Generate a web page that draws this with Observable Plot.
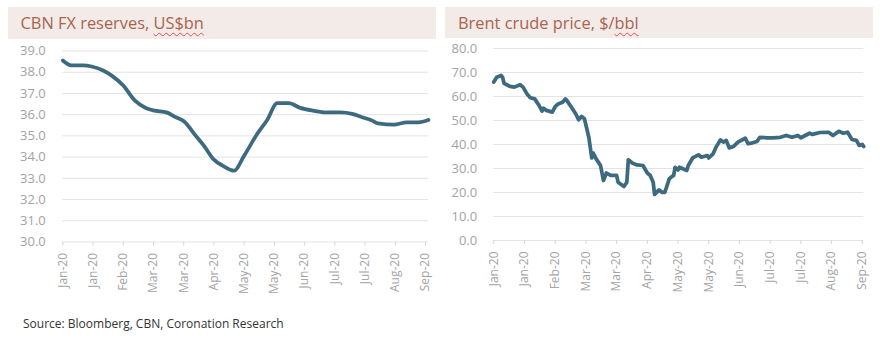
<!DOCTYPE html>
<html>
<head>
<meta charset="utf-8">
<script src="https://cdn.jsdelivr.net/npm/d3@7"></script>
<script src="https://cdn.jsdelivr.net/npm/@observablehq/plot@0.6"></script>
<style>
  html, body { margin: 0; padding: 0; background: #fff; }
  body { width: 880px; height: 340px; position: relative; overflow: hidden; font-family: "Open Sans", sans-serif; }
  .band { position: absolute; background: #f3ebe8; color: #a9644f; font-size: 16.4px; line-height: 32px; box-sizing: border-box; white-space: nowrap; }
  .sq { text-decoration: underline wavy #e05050; text-decoration-thickness: 1px; text-underline-offset: 3px; }
  .chart { position: absolute; top: 40px; }
  .src { position: absolute; left: 23px; top: 316px; font-size: 12px; line-height: 16px; color: #333; }
</style>
</head>
<body>
<div class="band" style="left:8px;top:7px;width:428px;height:32px;padding-left:12.5px">CBN FX reserves, <span class="sq">US$bn</span></div>
<div class="band" style="left:445px;top:7px;width:428px;height:31px;line-height:31px;padding-left:13px">Brent crude price, $/<span class="sq">bbl</span></div>
<div id="left" class="chart" style="left:0"></div>
<div id="right" class="chart" style="left:440px"></div>
<div class="src">Source: Bloomberg, CBN, Coronation Research</div>
<script>
// ---- data ----
const tickDates = ["2020-01-01","2020-01-22","2020-02-12","2020-03-04","2020-03-25","2020-04-15","2020-05-06","2020-05-27","2020-06-17","2020-07-08","2020-07-29","2020-08-19","2020-09-09"];
const tickLabels = ["Jan-20","Jan-20","Feb-20","Mar-20","Mar-20","Apr-20","May-20","May-20","Jun-20","Jul-20","Jul-20","Aug-20","Sep-20"];

const reservesTicks = [30, 31, 32, 33, 34, 35, 36, 37, 38, 39];
const brentTicks = [0, 10, 20, 30, 40, 50, 60, 70, 80];

const reservesDates = ["2020-01-01","2020-01-07","2020-01-15","2020-01-21","2020-01-29","2020-02-04","2020-02-12","2020-02-20","2020-02-28","2020-03-05","2020-03-13","2020-03-19","2020-03-26","2020-04-01","2020-04-08","2020-04-15","2020-04-21","2020-04-29","2020-05-06","2020-05-15","2020-05-22","2020-05-29","2020-06-06","2020-06-14","2020-06-23","2020-07-02","2020-07-12","2020-07-20","2020-07-27","2020-08-03","2020-08-07","2020-08-18","2020-08-27","2020-09-04","2020-09-11"];
const reservesValues = [38.55,38.32,38.32,38.27,38.08,37.84,37.37,36.67,36.30,36.19,36.11,35.90,35.64,35.12,34.54,33.88,33.60,33.36,34.07,35.09,35.75,36.54,36.54,36.32,36.19,36.11,36.11,36.04,35.88,35.72,35.59,35.53,35.64,35.64,35.75];

const brentDates = ["2020-01-01","2020-01-03","2020-01-06","2020-01-07","2020-01-08","2020-01-12","2020-01-15","2020-01-19","2020-01-21","2020-01-24","2020-01-26","2020-01-29","2020-02-01","2020-02-03","2020-02-04","2020-02-06","2020-02-10","2020-02-12","2020-02-14","2020-02-17","2020-02-19","2020-02-20","2020-02-23","2020-02-26","2020-02-28","2020-03-01","2020-03-03","2020-03-06","2020-03-08","2020-03-09","2020-03-11","2020-03-14","2020-03-16","2020-03-18","2020-03-21","2020-03-25","2020-03-26","2020-03-30","2020-04-01","2020-04-02","2020-04-05","2020-04-08","2020-04-12","2020-04-15","2020-04-17","2020-04-19","2020-04-20","2020-04-23","2020-04-25","2020-04-27","2020-04-30","2020-05-02","2020-05-03","2020-05-04","2020-05-06","2020-05-07","2020-05-12","2020-05-13","2020-05-16","2020-05-20","2020-05-22","2020-05-26","2020-05-27","2020-05-30","2020-06-01","2020-06-04","2020-06-06","2020-06-08","2020-06-10","2020-06-13","2020-06-16","2020-06-21","2020-06-23","2020-06-26","2020-06-29","2020-07-01","2020-07-06","2020-07-10","2020-07-15","2020-07-19","2020-07-23","2020-07-27","2020-07-29","2020-08-04","2020-08-06","2020-08-11","2020-08-17","2020-08-20","2020-08-24","2020-08-27","2020-08-30","2020-09-02","2020-09-05","2020-09-07","2020-09-09","2020-09-10"];
const brentValues = [66.0,68.0,68.75,68.0,65.5,64.2,63.9,64.9,63.9,60.8,59.5,59.0,56.25,53.9,55.1,54.2,53.5,55.8,56.9,57.6,59.0,58.3,55.6,52.8,50.3,51.7,50.7,43.0,34.4,36.4,34.0,31.25,25.0,28.1,27.1,27.1,24.3,22.5,24.3,33.6,32.2,31.5,31.25,28.1,27.1,24.3,19.2,21.1,20.1,20.1,25.7,26.7,27.1,30.5,29.4,30.5,29.2,31.25,34.4,35.7,34.7,35.4,34.4,36.1,38.9,41.9,41.0,41.7,38.6,39.2,41.0,42.6,40.3,40.7,41.25,43.0,42.8,42.8,43.0,43.75,43.0,43.75,42.8,44.7,44.2,45.0,45.1,43.75,45.5,44.7,45.1,42.1,41.7,39.6,40.0,39.2];

// ---- build ----
const parse = s => new Date(s + "T00:00:00Z");
const tickDateObjs = tickDates.map(parse);
const labelByTime = new Map(tickDateObjs.map((d, i) => [+d, tickLabels[i]]));
const reservesData = reservesDates.map((d, i) => ({date: parse(d), value: reservesValues[i]}));
const brentData = brentDates.map((d, i) => ({date: parse(d), value: brentValues[i]}));

const lineColor = "#3e6a80";
const gridColor = "#e3e3e3";
const textColor = "#a3a3a3";

function chart({data, yTicks, yDomain, xEnd, marginLeft, marginRight, marginTop, marginBottom, curve, tickPadding}) {
  return Plot.plot({
    width: 440,
    height: 270,
    marginLeft, marginRight, marginTop, marginBottom,
    style: {fontFamily: "'Open Sans', sans-serif", background: "transparent", overflow: "visible"},
    x: {type: "utc", domain: [parse("2020-01-01"), parse(xEnd)], label: null},
    y: {domain: yDomain, label: null},
    marks: [
      Plot.ruleY(yTicks, {stroke: gridColor, strokeWidth: 1}),
      Plot.axisY(yTicks, {tickSize: 0, tickPadding, tickFormat: d => d.toFixed(1), fill: textColor, fontSize: 13}),
      Plot.axisX(tickDateObjs, {tickSize: 4, tickPadding: 7, tickRotate: -90, tickFormat: d => labelByTime.get(+d), stroke: "#d6d6d6", fill: textColor, fontSize: 12}),
      Plot.line(data, {x: "date", y: "value", stroke: lineColor, strokeWidth: 3.75, curve, strokeLinejoin: "round", strokeLinecap: "round"})
    ]
  });
}

document.getElementById("left").append(chart({
  data: reservesData, yTicks: reservesTicks, yDomain: [30, 39], xEnd: "2020-09-11",
  marginLeft: 62.3, marginRight: 12.1, marginTop: 10.5, marginBottom: 68.5, curve: "monotone-x", tickPadding: 17
}));
document.getElementById("right").append(chart({
  data: brentData, yTicks: brentTicks, yDomain: [0, 80], xEnd: "2020-09-10",
  marginLeft: 53.3, marginRight: 16.8, marginTop: 8, marginBottom: 70, curve: "linear", tickPadding: 16.6
}));
</script>
</body>
</html>
